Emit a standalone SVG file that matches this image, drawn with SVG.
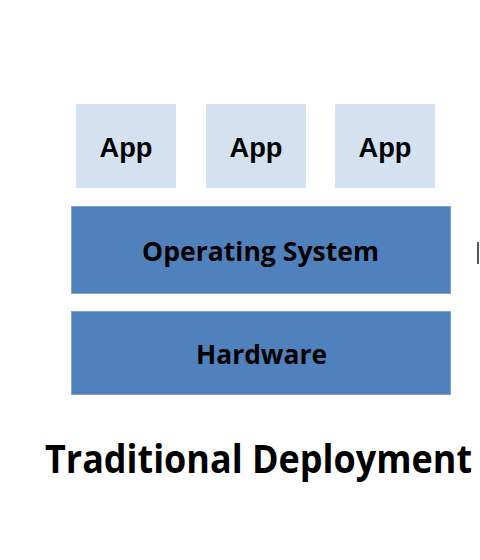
<svg xmlns="http://www.w3.org/2000/svg" width="480" height="560" viewBox="0 0 480 560">
  <style>
    .app { fill: #D3E1F1; }
    .layer { fill: #4F81BD; stroke: #7FA3D3; stroke-width: 1; }
    .label { font-family: "Open Sans", "Liberation Sans", sans-serif; font-weight: bold; fill: #000; text-anchor: middle; }
    .applabel { font-family: "Liberation Sans", Arial, sans-serif; font-weight: bold; fill: #000; text-anchor: middle; font-size: 27px; }
  </style>
  <rect width="480" height="560" fill="#fff"/>

  <g id="app1">
    <rect class="app" x="76" y="104" width="100" height="84"/>
    <text class="applabel" x="126" y="157" textLength="53" lengthAdjust="spacingAndGlyphs">App</text>
  </g>
  <g id="app2">
    <rect class="app" x="206" y="104" width="100" height="84"/>
    <text class="applabel" x="256" y="157" textLength="53" lengthAdjust="spacingAndGlyphs">App</text>
  </g>
  <g id="app3">
    <rect class="app" x="335" y="104" width="100" height="84"/>
    <text class="applabel" x="385" y="157" textLength="53" lengthAdjust="spacingAndGlyphs">App</text>
  </g>

  <g id="os">
    <rect class="layer" x="71.5" y="206.5" width="379" height="87"/>
    <text class="label" x="260.5" y="261" font-size="27" textLength="237" lengthAdjust="spacingAndGlyphs">Operating System</text>
  </g>
  <g id="hardware">
    <rect class="layer" x="71.5" y="311.5" width="379" height="83"/>
    <text class="label" x="261.5" y="364" font-size="27" textLength="131" lengthAdjust="spacingAndGlyphs">Hardware</text>
  </g>

  <g id="connectors"></g>

  <rect x="477" y="242" width="2" height="22" fill="#555"/>

  <g id="title">
    <text class="label" x="258.5" y="473" font-size="40" textLength="427" lengthAdjust="spacingAndGlyphs">Traditional Deployment</text>
  </g>
</svg>
